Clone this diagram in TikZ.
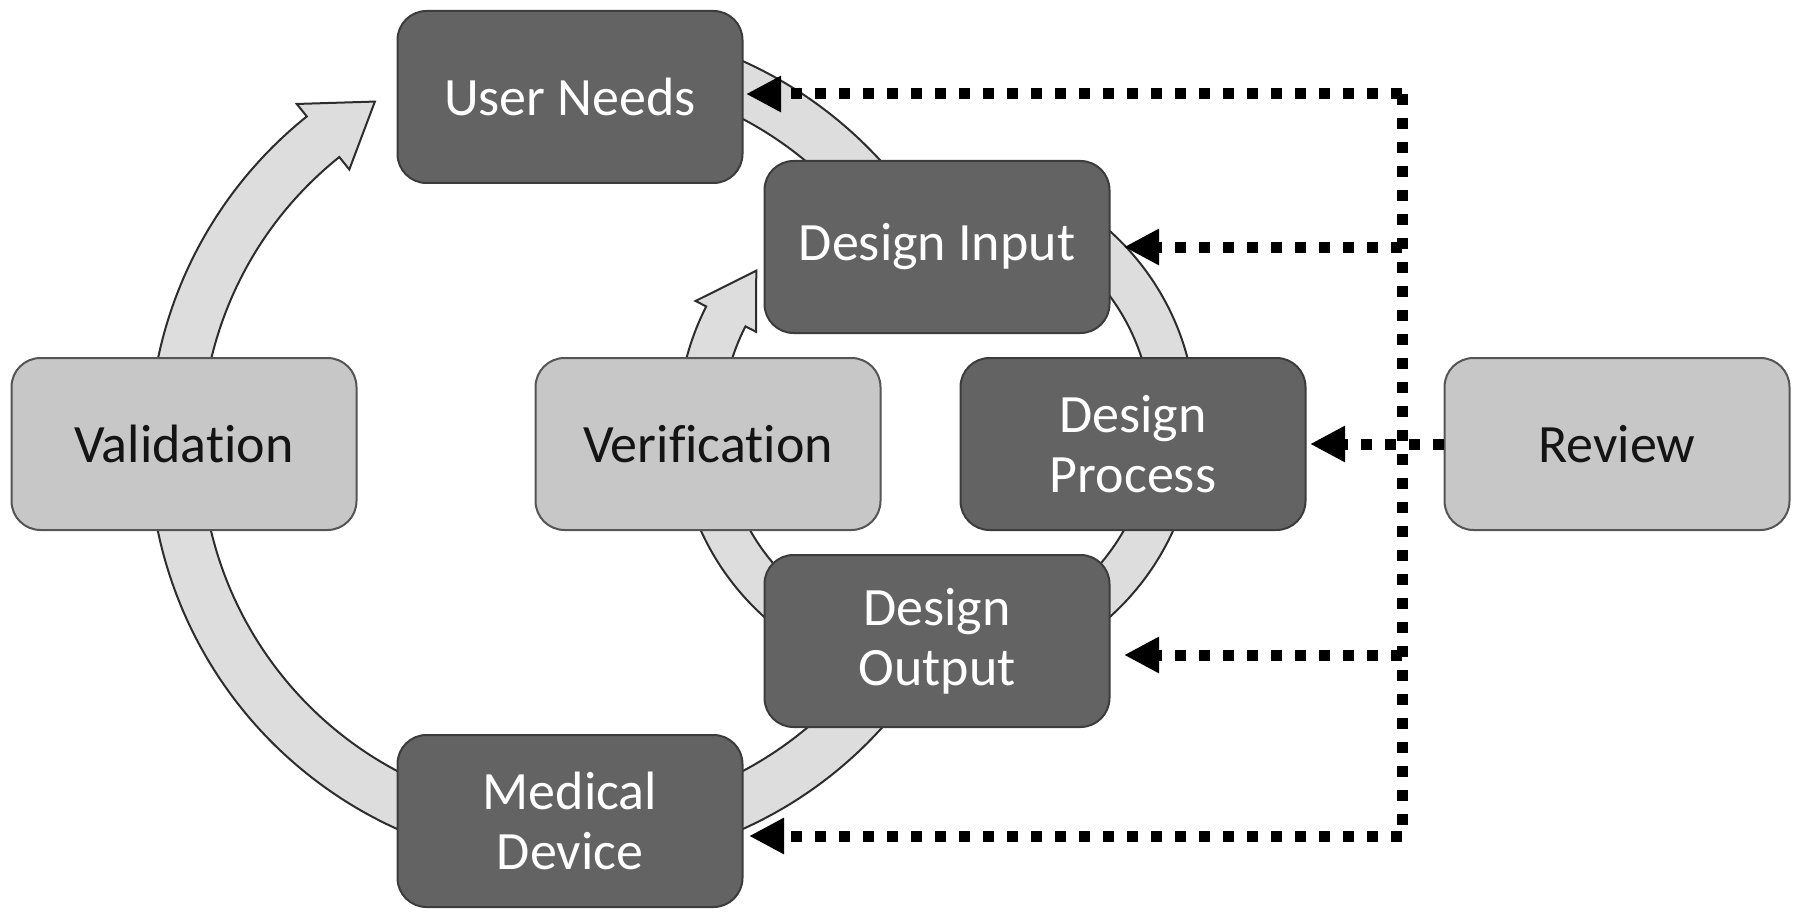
\documentclass[tikz,border=0pt]{standalone}
\usepackage{fontspec}
\setmainfont{Carlito}[Ligatures=NoCommon]
\usetikzlibrary{calc,arrows.meta}
\definecolor{darkfill}{RGB}{99,99,99}
\definecolor{darkline}{RGB}{60,60,60}
\definecolor{lightfill}{RGB}{199,199,199}
\definecolor{lightline}{RGB}{85,85,85}
\definecolor{ringfill}{RGB}{221,221,221}
\definecolor{ringline}{RGB}{45,45,45}
\definecolor{lighttext}{RGB}{20,20,20}
\begin{document}
\begin{tikzpicture}[x=0.5pt,y=0.5pt,
  box/.style={rounded corners=14.5pt, minimum width=172.5pt, minimum height=86pt,
    line width=1pt, align=center, font=\fontsize{27pt}{30pt}\selectfont, inner sep=0pt},
  darkbox/.style={box, fill=darkfill, draw=darkline, text=white},
  lightbox/.style={box, fill=lightfill, draw=lightline, text=lighttext},
  ring/.style={fill=ringfill, draw=ringline, line width=1pt, line join=miter},
  dotline/.style={line width=5.5pt, dash pattern=on 5.5pt off 6.5pt, draw=black},
  tiparrow/.style={-{Triangle[length=17.5pt,width=17pt]}}
]
\useasboundingbox (0,0) rectangle (1800,918);

% ring centres
\coordinate (O) at (570,473);
\coordinate (I) at (937,494);

% outer loop: Design Output -> Medical Device -> Validation -> User Needs
\filldraw[ring] ($(O)+(-40:421)$) arc[start angle=-40, end angle=-231.3, radius=421]
  -- ($(O)+(-231.3:437)$) -- ($(O)+(-240.4:395)$) -- ($(O)+(-231.3:353)$)
  -- ($(O)+(-231.3:369)$) arc[start angle=-231.3, end angle=-40, radius=369] -- cycle;
% outer loop: User Needs -> Design Input
\filldraw[ring] ($(O)+(100:421)$) arc[start angle=100, end angle=40, radius=421]
  -- ($(O)+(40:369)$) arc[start angle=40, end angle=100, radius=369] -- cycle;
% inner loop
\filldraw[ring] ($(I)+(90:259)$) arc[start angle=90, end angle=-207, radius=259]
  -- ($(I)+(-207:271)$) -- ($(I)+(-220.3:237)$) -- ($(I)+(-207:203)$)
  -- ($(I)+(-207:215)$) arc[start angle=-207, end angle=90, radius=215] -- cycle;

% boxes
\node[darkbox]  (un)   at (570,821)  {User Needs};
\node[darkbox]  (di)   at (937,671)  {Design Input};
\node[darkbox]  (dp)   at (1133,474) {Design\\Process};
\node[darkbox]  (dout) at (937,277)  {Design\\Output};
\node[darkbox]  (md)   at (570,97)   {Medical\\Device};
\node[lightbox] (va)   at (184,474)  {Validation};
\node[lightbox] (ve)   at (708,474)  {Verification};
\node[lightbox] (rv)   at (1617,474) {Review};

% review bus
\coordinate (bU) at (1402,824);
\coordinate (bI) at (1402,671);
\coordinate (bO) at (1402,263);
\coordinate (bM) at (1402,82);
\draw[dotline] (bU) -- (bM);
\draw[dotline,tiparrow] (bU) -- ([xshift=1.25pt]bU -| un.east);
\draw[dotline,tiparrow] (bI) -- ([xshift=6.75pt]bI -| di.east);
\draw[dotline,tiparrow] (rv.west) -- ([xshift=1.75pt]dp.east);
\draw[dotline,tiparrow] (bO) -- ([xshift=6.75pt]bO -| dout.east);
\draw[dotline,tiparrow] (bM) -- ([xshift=2.75pt]bM -| md.east);
\end{tikzpicture}
\end{document}
